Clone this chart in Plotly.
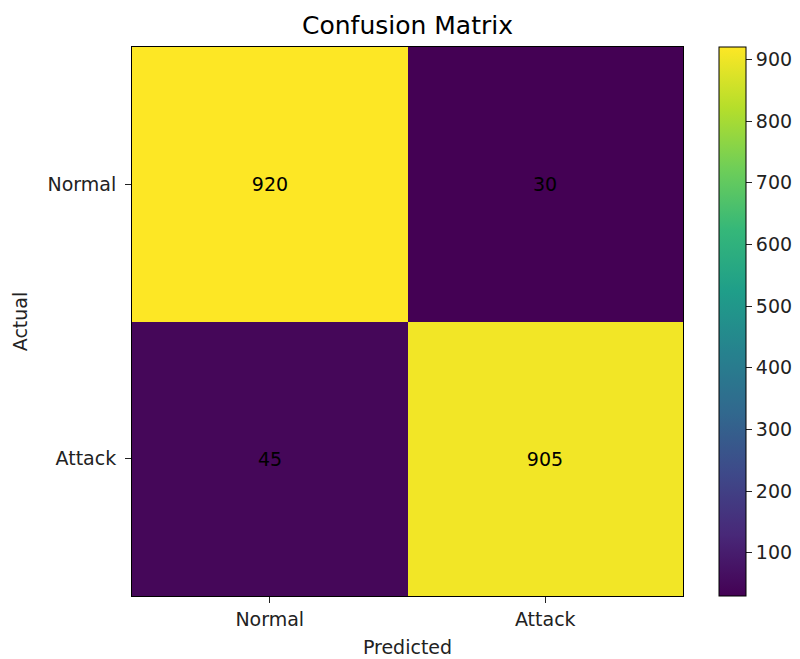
import plotly.graph_objects as go

predicted_labels = ["Normal", "Attack"]
actual_labels = ["Normal", "Attack"]
counts = [[920, 30],
          [45, 905]]
cbar_ticks = [100, 200, 300, 400, 500, 600, 700, 800, 900]

font_family = "DejaVu Sans"
txt = "#222"
fs = 19

W, H = 792, 651  # page body has an 8px margin

fig = go.Figure(go.Heatmap(
    z=counts,
    x=predicted_labels,
    y=actual_labels,
    colorscale="Viridis",
    zmin=30, zmax=920,
    texttemplate="%{z}",
    textfont=dict(family=font_family, size=fs, color="black"),
    hoverongaps=False,
    colorbar=dict(
        x=1.065, xanchor="left", xref="paper",
        y=0, yanchor="bottom", len=1, lenmode="fraction",
        thickness=27, xpad=0, ypad=0,
        outlinecolor="black", outlinewidth=1,
        tickvals=cbar_ticks,
        ticks="outside", ticklen=6, tickcolor=txt,
        tickfont=dict(family=font_family, size=fs, color=txt),
    ),
))

fig.update_layout(
    width=W, height=H,
    margin=dict(l=124, r=117, t=39, b=63, autoexpand=False),
    plot_bgcolor="white", paper_bgcolor="white",
    title=dict(text="Confusion Matrix", x=0.5, xref="paper", xanchor="center",
               y=1 - 17/H, yanchor="middle",
               font=dict(family=font_family, size=25, color="black")),
    font=dict(family=font_family, color=txt),
)
fig.update_xaxes(
    title=dict(text="Predicted", font=dict(family=font_family, size=fs, color=txt), standoff=11),
    tickfont=dict(family=font_family, size=fs, color=txt),
    showline=True, linecolor="black", linewidth=1, mirror=True,
    ticks="outside", ticklen=6, tickcolor=txt,
    showgrid=False, zeroline=False,
)
fig.update_yaxes(
    title=dict(text="Actual", font=dict(family=font_family, size=fs, color=txt), standoff=14),
    tickfont=dict(family=font_family, size=fs, color=txt),
    ticklabelstandoff=5,
    autorange="reversed",
    showline=True, linecolor="black", linewidth=1, mirror=True,
    ticks="outside", ticklen=6, tickcolor=txt,
    showgrid=False, zeroline=False,
)

fig.write_html("out.html")
